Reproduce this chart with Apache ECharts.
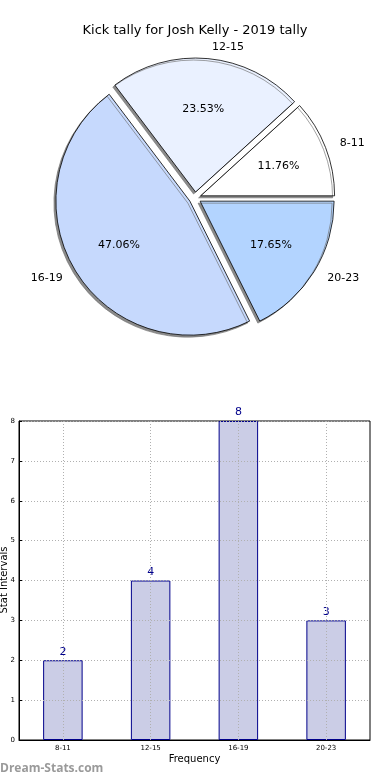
<!DOCTYPE html>
<html>
<head>
<meta charset="utf-8">
<script src="https://cdn.jsdelivr.net/npm/echarts@6/dist/echarts.min.js"></script>
<style>
html,body{margin:0;padding:0;background:#fff;}
#chart{width:390px;height:780px;}
</style>
</head>
<body>
<div id="chart"></div>
<script>
var titleText = 'Kick tally for Josh Kelly - 2019 tally';
var categories = ['8-11', '12-15', '16-19', '20-23'];
var counts = [2, 4, 8, 3];
var pieColors = ['#ffffff', '#eaf1ff', '#c6d9fd', '#b3d4ff'];
var yTicks = [0, 1, 2, 3, 4, 5, 6, 7, 8];
var yAxisTitle = 'Stat Intervals';
var xAxisTitle = 'Frequency';

var total = counts.reduce(function (a, b) { return a + b; }, 0);
var pieData = categories.map(function (c, i) {
  return { name: c, value: counts[i], selected: true, itemStyle: { color: pieColors[i] } };
});
var pctData = categories.map(function (c, i) {
  return { name: c, value: counts[i], selected: true };
});
var FONT = 'DejaVu Sans';
var R = 134;

var chart = echarts.init(document.getElementById('chart'), null, { renderer: 'canvas' });
chart.setOption({
  animation: false,
  backgroundColor: '#fff',
  textStyle: { fontFamily: FONT },
  title: {
    text: titleText,
    left: 'center',
    top: 19,
    textStyle: { fontFamily: FONT, fontSize: 13, fontWeight: 'normal', color: '#000' }
  },
  graphic: [{
    type: 'text',
    left: 0,
    top: 763,
    style: { text: 'Dream-Stats.com', fill: '#9a9a9a', font: 'bold 12px "Open Sans", "DejaVu Sans", sans-serif' }
  }, {
    type: 'text',
    x: 4,
    y: 580,
    rotation: Math.PI / 2,
    style: {
      text: yAxisTitle, fill: '#000', font: '10px "DejaVu Sans"',
      align: 'center', verticalAlign: 'middle'
    }
  }],
  grid: {
    left: 19, right: 20, top: 421, bottom: 40,
    outerBoundsMode: 'none', containLabel: false,
    show: true, borderColor: '#000', borderWidth: 1, backgroundColor: 'rgba(0,0,0,0)'
  },
  xAxis: {
    type: 'category',
    data: categories,
    z: 5,
    name: xAxisTitle,
    nameLocation: 'middle',
    nameGap: 14,
    nameTextStyle: { fontFamily: FONT, fontSize: 10, color: '#000' },
    axisLine: { show: true, lineStyle: { color: '#000', width: 1 } },
    axisTick: { show: false },
    axisLabel: { fontFamily: FONT, fontSize: 7, color: '#000', margin: 5 },
    splitLine: { show: false }
  },
  yAxis: {
    type: 'value',
    min: 0,
    max: 8,
    interval: 1,
    z: 5,
    axisLine: { show: true, lineStyle: { color: '#000', width: 1 } },
    axisTick: { show: true, inside: true, length: 3, lineStyle: { color: '#000' } },
    axisLabel: {
      fontFamily: FONT, fontSize: 7, color: '#000', margin: 4,
      formatter: function (v) { return yTicks.indexOf(v) >= 0 ? String(v) : ''; }
    },
    splitLine: { show: true, lineStyle: { color: '#b0b0b0', type: [1, 2], width: 1 } }
  },
  series: [
    {
      type: 'pie',
      center: [195, 198],
      radius: R,
      startAngle: 0,
      clockwise: false,
      selectedMode: 'multiple',
      selectedOffset: 6,
      avoidLabelOverlap: false,
      silent: true,
      data: pieData,
      itemStyle: {
        borderColor: '#000', borderWidth: 0.8,
        shadowColor: 'rgba(110,110,110,0.8)', shadowBlur: 0, shadowOffsetX: -2, shadowOffsetY: 2
      },
      label: {
        show: true, position: 'outside', formatter: '{b}',
        fontFamily: FONT, fontSize: 11, color: '#000', distanceToLabelLine: 3
      },
      labelLine: { show: false, length: 12, length2: 0 },
      emphasis: { disabled: true }
    },
    {
      type: 'pie',
      center: [195, 198],
      radius: R / 0.5 * 0.6,
      startAngle: 0,
      clockwise: false,
      selectedMode: 'multiple',
      selectedOffset: 6,
      silent: true,
      data: pctData,
      itemStyle: { color: 'rgba(0,0,0,0)', borderWidth: 0 },
      label: {
        show: true, position: 'inside',
        formatter: function (p) { return (p.value / total * 100).toFixed(2) + '%'; },
        fontFamily: FONT, fontSize: 11, color: '#000'
      },
      labelLine: { show: false },
      emphasis: { disabled: true },
      z: 3
    },
    {
      type: 'bar',
      data: counts,
      barWidth: '45%',
      itemStyle: { color: '#cbcde6', borderColor: '#00008b', borderWidth: 1 },
      label: { show: true, position: 'top', distance: 3, fontFamily: FONT, fontSize: 11, color: '#00008b' },
      markLine: {
        silent: true,
        symbol: 'none',
        label: { show: false },
        lineStyle: { color: '#b0b0b0', type: [1, 2], width: 1 },
        data: categories.map(function (c) { return { xAxis: c }; })
      },
      emphasis: { disabled: true }
    }
  ]
});
</script>
</body>
</html>
